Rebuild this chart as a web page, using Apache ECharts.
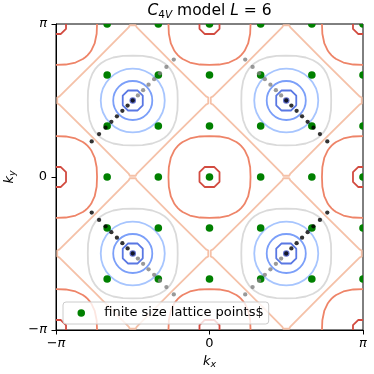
<!DOCTYPE html>
<html>
<head>
<meta charset="utf-8">
<script src="https://cdn.jsdelivr.net/npm/echarts@6/dist/echarts.min.js"></script>
<style>
  html, body { margin: 0; padding: 0; background: #fff; }
  #chart { width: 374px; height: 374px; }
</style>
</head>
<body>
<div id="chart"></div>
<script>
const PI = Math.PI
const HALF = PI / 2
const FONT = 'DejaVu Sans'

// lattice momenta k = 2*pi*n/L for L = 6, n = -2..3
const latticeK = [-2 * PI / 3, -PI / 3, 0, PI / 3, 2 * PI / 3, PI]

// band minima / maxima: centres of the contour rings
const minCenters = [[-HALF, HALF], [HALF, HALF], [-HALF, -HALF], [HALF, -HALF]]
const maxCenters = [
  [-PI, PI], [0, PI], [PI, PI],
  [-PI, 0], [0, 0], [PI, 0],
  [-PI, -PI], [0, -PI], [PI, -PI]
]

// diagonal k points, offset from the minimum along kx and ky
const diagSteps = [0.105, 0.212, 0.324, 0.438, 0.557, 0.689, 0.84]
// direction of the black run from each minimum, the grey run goes the other way
const blackDirs = [[-1, -1], [1, -1], [-1, 1], [1, 1]]

// contour shapes: first octant (0..45 deg) relative to the centre
const minOctagon = [[0.205, 0], [0.205, 0.1], [0.152, 0.152]]
const ringRadii = [0.4, 0.655]
const greySquircle = [[0.92, 0], [0.915, 0.2], [0.883, 0.4], [0.827, 0.55], [0.765, 0.65], [0.712, 0.712]]
const diamond = [[1.545, 0], [1.545, 0.06], [1.5, 0.085], [0.79, 0.79]]
const redSquircle = [[0.84, 0], [0.832, 0.2], [0.791, 0.4], [0.719, 0.55], [0.682, 0.6], [0.643, 0.643]]
const maxOctagon = [[0.205, 0], [0.205, 0.1], [0.152, 0.152]]

const levelColors = ['#3b4cc0', '#5977e3', '#7b9ff9', '#a7c5fe', '#dadada', '#f5c1a8', '#ee8468', '#d24b40']

const legendName = 'finite size lattice points$'

// mirror one octant into a closed ring
function fullRing (oct) {
  const q1 = oct.concat(oct.slice(0, -1).reverse().map(p => [p[1], p[0]]))
  const q2 = q1.slice(0, -1).reverse().map(p => [-p[0], p[1]])
  const upper = q1.concat(q2)
  const lower = upper.slice(0, -1).reverse().map(p => [p[0], -p[1]])
  return upper.concat(lower)
}

function shapeSeries (centers, oct, color) {
  const pts = fullRing(oct)
  return {
    type: 'custom',
    coordinateSystem: 'cartesian2d',
    clip: true,
    silent: true,
    z: 2,
    data: centers,
    encode: { x: 0, y: 1 },
    renderItem: (params, api) => {
      const cx = api.value(0)
      const cy = api.value(1)
      return {
        type: 'polygon',
        shape: { points: pts.map(p => api.coord([cx + p[0], cy + p[1]])) },
        style: { fill: 'none', stroke: color, lineWidth: 1.8, lineJoin: 'round' }
      }
    }
  }
}

function circleSeries (centers, r, color) {
  return {
    type: 'custom',
    coordinateSystem: 'cartesian2d',
    clip: true,
    silent: true,
    z: 2,
    data: centers,
    encode: { x: 0, y: 1 },
    renderItem: (params, api) => {
      const c = api.coord([api.value(0), api.value(1)])
      const s = api.size([r, r])
      return {
        type: 'ellipse',
        shape: { cx: c[0], cy: c[1], rx: s[0], ry: s[1] },
        style: { fill: 'none', stroke: color, lineWidth: 1.8 }
      }
    }
  }
}

const latticePts = []
latticeK.forEach(ky => latticeK.forEach(kx => latticePts.push([kx, ky])))

const blackPts = []
const greyPts = []
minCenters.forEach((c, i) => {
  const d = blackDirs[i]
  blackPts.push([c[0], c[1]])
  diagSteps.forEach(s => {
    blackPts.push([c[0] + d[0] * s, c[1] + d[1] * s])
    greyPts.push([c[0] - d[0] * s, c[1] - d[1] * s])
  })
})

const piLabel = v => {
  if (Math.abs(v) < 1e-6) return '{n|0}'
  return v < 0 ? '{n|\u2212}{i|π}' : '{i|π}'
}
const labelRich = {
  n: { fontFamily: FONT, fontSize: 13, color: '#000' },
  i: { fontFamily: FONT, fontSize: 13, fontStyle: 'italic', color: '#000' }
}
const nameRich = {
  i: { fontFamily: FONT, fontSize: 13, fontStyle: 'italic', color: '#000', lineHeight: 16 },
  s: { fontFamily: FONT, fontSize: 9.5, fontStyle: 'italic', color: '#000', verticalAlign: 'bottom', lineHeight: 10 }
}

function makeAxis (name, gap) {
  return {
    type: 'value',
    min: -PI,
    max: PI,
    interval: PI,
    name: name,
    nameLocation: 'middle',
    nameGap: gap,
    nameTextStyle: { rich: nameRich },
    axisLine: { show: true, onZero: false, lineStyle: { color: '#000', width: 1 } },
    axisTick: { show: true, length: 4.5, lineStyle: { color: '#000', width: 1 } },
    splitLine: { show: false },
    axisLabel: { formatter: piLabel, rich: labelRich, margin: 7, showMinLabel: true, showMaxLabel: true }
  }
}

const chart = echarts.init(document.getElementById('chart'))
const xAxis = makeAxis('{i|k}{s|x}', 23)
const yAxis = makeAxis('{i|k}{s|y}', 32)
yAxis.axisLabel.margin = 9

const titleRich = {
  i: { fontFamily: FONT, fontSize: 15.5, fontStyle: 'italic', fontWeight: 'normal', color: '#000', lineHeight: 20 },
  n: { fontFamily: FONT, fontSize: 15.5, fontWeight: 'normal', color: '#000', lineHeight: 20 },
  d: { fontFamily: FONT, fontSize: 10.5, fontWeight: 'normal', color: '#000', verticalAlign: 'bottom', lineHeight: 12 },
  s: { fontFamily: FONT, fontSize: 10.5, fontStyle: 'italic', fontWeight: 'normal', color: '#000', verticalAlign: 'bottom', lineHeight: 12 }
}

chart.setOption({
  animation: false,
  backgroundColor: '#fff',
  title: {
    text: '{i|C}{d|4}{s|V}{n| model }{i|L}{n| = 6}',
    left: 209.5,
    textAlign: 'center',
    top: 1,
    padding: 0,
    textStyle: { fontWeight: 'normal', rich: titleRich }
  },
  grid: {
    left: 56, right: 11, top: 24, bottom: 44,
    show: true, borderColor: '#000', borderWidth: 1,
    containLabel: false, outerBoundsMode: 'none'
  },
  xAxis: xAxis,
  yAxis: yAxis,
  legend: {
    data: [{ name: legendName, icon: 'circle', itemStyle: { color: '#008000' } }],
    left: 63,
    top: 302,
    orient: 'horizontal',
    padding: [4, 5, 4, 14.5],
    itemWidth: 26,
    itemHeight: 7.5,
    backgroundColor: 'rgba(255,255,255,0.8)',
    borderColor: '#cccccc',
    borderWidth: 1,
    borderRadius: 3,
    textStyle: { fontFamily: FONT, fontSize: 13, color: '#000', lineHeight: 14, padding: [0, 0, 0, 5] }
  },
  series: [
    {
      type: 'scatter', silent: true, z: 2,
      symbol: 'circle', symbolSize: 6.5,
      itemStyle: { color: levelColors[0] },
      data: minCenters
    },
    shapeSeries(minCenters, minOctagon, levelColors[1]),
    circleSeries(minCenters, ringRadii[0], levelColors[2]),
    circleSeries(minCenters, ringRadii[1], levelColors[3]),
    shapeSeries(minCenters, greySquircle, levelColors[4]),
    shapeSeries(minCenters, diamond, levelColors[5]),
    shapeSeries(maxCenters, redSquircle, levelColors[6]),
    shapeSeries(maxCenters, maxOctagon, levelColors[7]),
    {
      name: legendName,
      type: 'custom',
      coordinateSystem: 'cartesian2d',
      clip: true,
      z: 3,
      itemStyle: { color: '#008000' },
      data: latticePts,
      encode: { x: 0, y: 1 },
      renderItem: (params, api) => {
        const c = api.coord([api.value(0), api.value(1)])
        return { type: 'circle', shape: { cx: c[0], cy: c[1], r: 3.8 }, style: { fill: '#008000' } }
      }
    },
    {
      type: 'scatter', silent: true, z: 4,
      symbol: 'circle', symbolSize: 4.3,
      itemStyle: { color: '#000' },
      data: blackPts
    },
    {
      type: 'scatter', silent: true, z: 4,
      symbol: 'circle', symbolSize: 4.3,
      itemStyle: { color: '#808080' },
      data: greyPts
    }
  ]
})
</script>
</body>
</html>
